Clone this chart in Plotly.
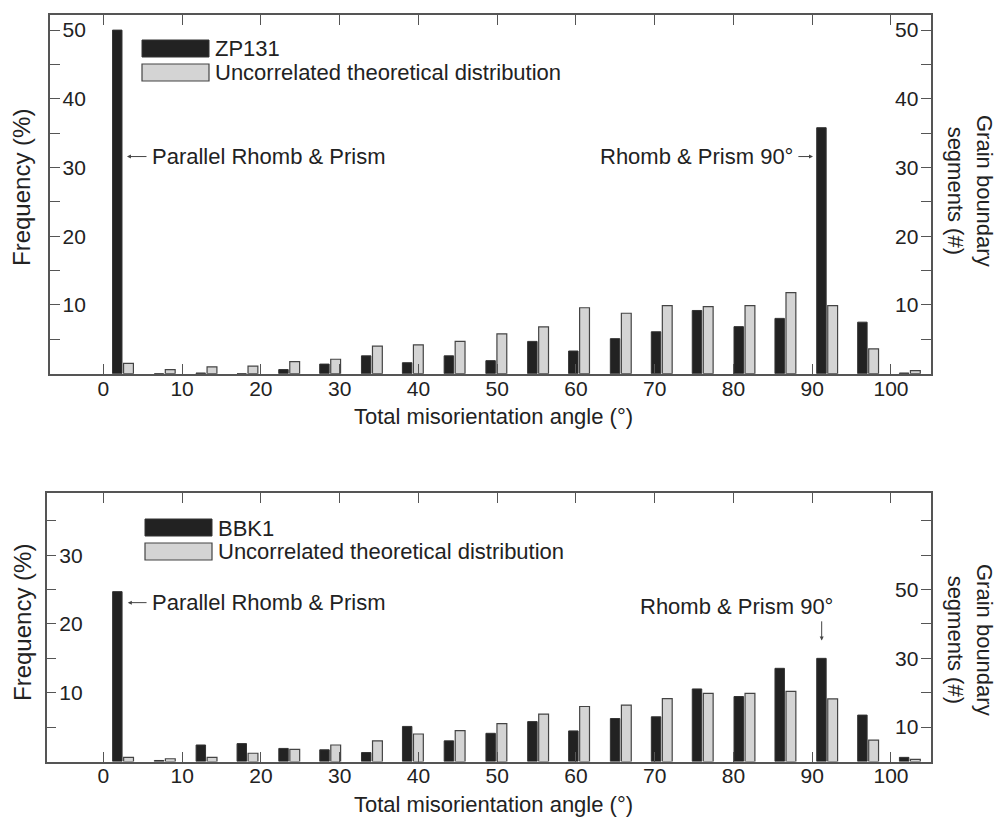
import plotly.graph_objects as go

# ---------------- data ----------------
angle_bins = [2.5, 7.8, 13.1, 18.3, 23.6, 28.8, 34.1, 39.3, 44.6, 49.9,
              55.2, 60.4, 65.7, 70.9, 76.1, 81.4, 86.6, 91.9, 97.1, 102.4]
x_ticks = [0, 10, 20, 30, 40, 50, 60, 70, 80, 90, 100]

zp131_freq = [50.0, 0.0, 0.1, 0.0, 0.6, 1.4, 2.6, 1.6, 2.6, 1.9,
              4.7, 3.3, 5.1, 6.1, 9.2, 6.85, 8.05, 35.8, 7.5, 0.1]
zp131_theory = [1.5, 0.6, 1.0, 1.1, 1.75, 2.1, 4.0, 4.2, 4.7, 5.8,
                6.8, 9.6, 8.8, 9.9, 9.75, 9.9, 11.8, 9.9, 3.6, 0.45]

bbk1_freq = [24.7, 0.15, 2.4, 2.6, 1.9, 1.7, 1.3, 5.1, 3.0, 4.1,
             5.8, 4.45, 6.25, 6.5, 10.55, 9.45, 13.55, 15.0, 6.75, 0.6]
bbk1_theory = [0.6, 0.4, 0.6, 1.2, 1.75, 2.4, 3.0, 4.0, 4.5, 5.5,
               6.9, 8.0, 8.2, 9.15, 9.9, 9.9, 10.2, 9.1, 3.1, 0.3]

top_left_ticks = [10, 20, 30, 40, 50]
top_right_ticks = [10, 20, 30, 40, 50]
bot_left_ticks = [10, 20, 30]
bot_right_ticks = [10, 30, 50]

sample_top = "ZP131"
sample_bot = "BBK1"
theory_name = "Uncorrelated theoretical distribution"
label_parallel = "Parallel Rhomb & Prism"
label_90 = "Rhomb & Prism 90°"
x_title = "Total misorientation angle (°)"
y_title = "Frequency (%)"
y2_title = "Grain boundary<br>segments (#)"

# ---------------- styling ----------------
W, H = 998, 817
FONT = "Arial, 'Liberation Sans', Helvetica, sans-serif"
TXT = "#222222"
AX = "#555555"
BLACK = "#222222"
GRAY = "#d4d4d4"


def px(xp):
    return xp / W


def py(yp):
    return 1 - yp / H


fig = go.Figure()


def add_pair(xa, ya, freq, theory, name):
    fig.add_trace(go.Bar(x=angle_bins, y=freq, name=name, xaxis=xa, yaxis=ya,
                         width=1.2, offset=-1.33,
                         marker=dict(color=BLACK, line=dict(color="#333333", width=1)),
                         showlegend=False))
    fig.add_trace(go.Bar(x=angle_bins, y=theory, name=theory_name, xaxis=xa, yaxis=ya,
                         width=1.25, offset=0.07,
                         marker=dict(color=GRAY, line=dict(color="#444444", width=1.2)),
                         showlegend=False))


add_pair("x", "y", zp131_freq, zp131_theory, sample_top)
add_pair("x2", "y3", bbk1_freq, bbk1_theory, sample_bot)
# empty traces so right-hand axes are drawn
fig.add_trace(go.Scatter(x=[], y=[], xaxis="x", yaxis="y2", showlegend=False))
fig.add_trace(go.Scatter(x=[], y=[], xaxis="x2", yaxis="y4", showlegend=False))

tickfont = dict(family=FONT, size=21, color=TXT)

xcommon = dict(showline=True, linecolor=AX, linewidth=1.5, mirror="ticks",
               ticks="inside", ticklen=10, tickcolor=AX, tickwidth=1.2,
               tickvals=x_ticks, tickfont=tickfont, showgrid=False, zeroline=False,
               ticklabelstandoff=-5)


def yaxis_cfg(rng, domain, tickvals, minor_dtick, side, overlay=None, anchor=None):
    d = dict(range=rng, showline=True, linecolor=AX, linewidth=1.5,
             ticks="inside", ticklen=10, tickcolor=AX, tickwidth=1.2,
             tickvals=tickvals, tickfont=tickfont, ticklabelposition="inside",
             ticklabelstandoff=4,
             minor=dict(ticks="inside", ticklen=10, tickcolor=AX, tickwidth=1.2,
                        dtick=minor_dtick, tick0=0),
             showgrid=False, zeroline=False, side=side, fixedrange=True)
    if overlay:
        d["overlaying"] = overlay
        d["anchor"] = anchor
    else:
        d["domain"] = domain
        d["anchor"] = anchor
    return d


fig.update_layout(
    width=W, height=H,
    margin=dict(l=0, r=0, t=0, b=0),
    paper_bgcolor="white", plot_bgcolor="white",
    barmode="overlay",
    font=dict(family=FONT, color=TXT),
    xaxis=dict(domain=[px(50), px(931)], range=[-6.77, 105.08], anchor="y", **xcommon),
    yaxis=yaxis_cfg([0, 52.2], [py(373.7), py(15)], top_left_ticks, 5, "left", anchor="x"),
    yaxis2=yaxis_cfg([0, 52.2], None, top_right_ticks, 5, "right", overlay="y", anchor="x"),
    xaxis2=dict(domain=[px(46.7), px(931)], range=[-7.2, 105.08], anchor="y3", **xcommon),
    yaxis3=yaxis_cfg([0, 39.0], [py(761.5), py(493.3)], bot_left_ticks, 5, "left", anchor="x2"),
    yaxis4=yaxis_cfg([0, 78.0], None, bot_right_ticks, 10, "right", overlay="y3", anchor="x2"),
)

shapes = []
ann = []


def legend(y_black, y_gray, x0, label):
    shapes.append(dict(type="rect", xref="paper", yref="paper",
                       x0=px(x0), x1=px(x0 + 67), y0=py(y_black + 17), y1=py(y_black),
                       fillcolor=BLACK, line=dict(color="#333333", width=1)))
    shapes.append(dict(type="rect", xref="paper", yref="paper",
                       x0=px(x0), x1=px(x0 + 67), y0=py(y_gray + 17), y1=py(y_gray),
                       fillcolor=GRAY, line=dict(color="#444444", width=1.2)))
    ann.append(dict(xref="paper", yref="paper", x=px(x0 + 71), y=py(y_black + 9),
                    text=label, showarrow=False, xanchor="left", yanchor="middle",
                    font=dict(family=FONT, size=22, color=TXT)))
    ann.append(dict(xref="paper", yref="paper", x=px(x0 + 71), y=py(y_gray + 8),
                    text=theory_name, showarrow=False, xanchor="left", yanchor="middle",
                    font=dict(family=FONT, size=22, color=TXT)))


legend(40, 64, 142, sample_top)
legend(519, 543, 145, sample_bot)

afont = dict(family=FONT, size=22, color=TXT)
arrow = dict(showarrow=True, arrowhead=2, arrowsize=0.8, arrowwidth=1, arrowcolor="#444444", text="")

# top panel annotations
ann.append(dict(xref="x", yref="y", x=5.93, y=31.6, text=label_parallel, showarrow=False,
                xanchor="left", yanchor="middle", font=afont))
ann.append(dict(xref="x", yref="y", x=3.0, y=31.6, ax=5.67, ay=31.6, axref="x", ayref="y", **arrow))
ann.append(dict(xref="x", yref="y", x=87.8, y=31.6, text=label_90, showarrow=False,
                xanchor="right", yanchor="middle", font=afont))
ann.append(dict(xref="x", yref="y", x=90.1, y=31.6, ax=88.05, ay=31.6, axref="x", ayref="y", **arrow))

# bottom panel annotations
ann.append(dict(xref="x2", yref="y3", x=5.93, y=23.1, text=label_parallel, showarrow=False,
                xanchor="left", yanchor="middle", font=afont))
ann.append(dict(xref="x2", yref="y3", x=3.1, y=23.1, ax=5.67, ay=23.1, axref="x2", ayref="y3", **arrow))
ann.append(dict(xref="x2", yref="y3", x=92.9, y=22.5, text=label_90, showarrow=False,
                xanchor="right", yanchor="middle", font=afont))
ann.append(dict(xref="x2", yref="y3", x=91.2, y=17.6, ax=91.2, ay=20.6, axref="x2", ayref="y3", **arrow))

# axis titles
tfont = dict(family=FONT, size=24, color=TXT)
for yc in (188, 623):
    ann.append(dict(xref="paper", yref="paper", x=px(22), y=py(yc), text=y_title, textangle=-90,
                    showarrow=False, xanchor="center", yanchor="middle", font=tfont))
for yc in (191, 640):
    ann.append(dict(xref="paper", yref="paper", x=px(970), y=py(yc), text=y2_title, textangle=90,
                    showarrow=False, xanchor="center", yanchor="middle",
                    font=dict(family=FONT, size=22, color=TXT)))
for yc in (416, 804):
    ann.append(dict(xref="paper", yref="paper", x=px(493), y=py(yc), text=x_title,
                    showarrow=False, xanchor="center", yanchor="middle",
                    font=dict(family=FONT, size=22, color=TXT)))

fig.update_layout(shapes=shapes, annotations=ann)
fig.write_html("out.html", config={"displayModeBar": False},
               post_script="document.body.style.margin='0';document.body.style.overflow='hidden';")
